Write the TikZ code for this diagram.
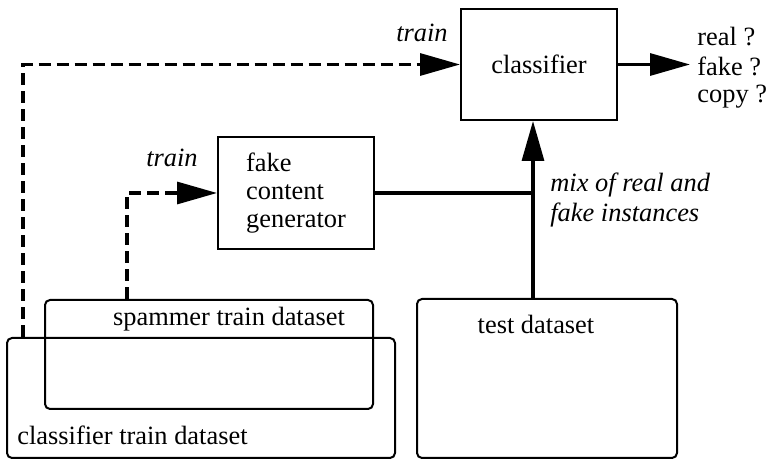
\documentclass[tikz,border=0pt]{standalone}
\usepackage{fontspec}
\setmainfont{Liberation Serif}
\usetikzlibrary{arrows.meta}

\begin{document}
\begin{tikzpicture}[x=0.5pt,y=-0.5pt,
  font=\fontsize{13.2}{13.8}\selectfont,
  box/.style={draw,line width=1pt,inner sep=0pt},
  dbox/.style={draw,line width=1pt,rounded corners=2.5pt,inner sep=0pt},
  flow/.style={line width=1.6pt,-{Triangle[length=20pt,width=11pt]}},
  dashflow/.style={flow,dash pattern=on 6pt off 3pt},
  lbl/.style={inner sep=0pt}]
\useasboundingbox (0,0) rectangle (766,459);
% ---- boxes
\node[box,minimum width=78pt,minimum height=55.5pt] (classifier) at (539,64.5) {classifier};
\node[box,minimum width=78pt,minimum height=56pt,align=left] (gen) at (296,193) {fake\\content\\generator};
\node[dbox,minimum width=164pt,minimum height=54.5pt] (spam) at (209,354.5) {};
\node[dbox,minimum width=194pt,minimum height=60pt] (ctrain) at (201,398) {};
\node[dbox,minimum width=130pt,minimum height=79.5pt] (test) at (547,378.5) {};
% ---- box texts
\node[lbl] (spamtxt) at (229,319) {spammer train dataset};
\node[lbl,anchor=west] (ctraintxt) at (17,435) {classifier train dataset};
\node[lbl] (testtxt) at (536,324) {test dataset};
% ---- output
\coordinate (out) at (690,64.5);
\draw[flow] (classifier.east) -- (out);
\node[lbl,anchor=west] (real) at (697,37) {real ?};
\node[lbl,anchor=west] (fake) at (697,66) {fake ?};
\node[lbl,anchor=west] (copy) at (697,97) {copy ?};
% ---- mix into classifier
\coordinate (join) at (533,193);
\draw[line width=1.6pt] (gen.east) -- (join);
\draw[flow] (test.north -| join) -- (classifier.south -| join);
\node[lbl,anchor=west,align=left,font=\fontsize{13.2}{15}\selectfont\itshape] (mix) at (550,200) {mix of real and\\fake instances};
% ---- training links
\draw[dashflow] (ctrain.north west) ++(17,0) |- (classifier.west);
\node[lbl,font=\fontsize{13.2}{13.8}\selectfont\itshape] (train1) at (422,33) {train};
\draw[dashflow] (spam.north west) ++(83,0) |- (gen.west);
\node[lbl,font=\fontsize{13.2}{13.8}\selectfont\itshape] (train2) at (172,158) {train};
\end{tikzpicture}
\end{document}
